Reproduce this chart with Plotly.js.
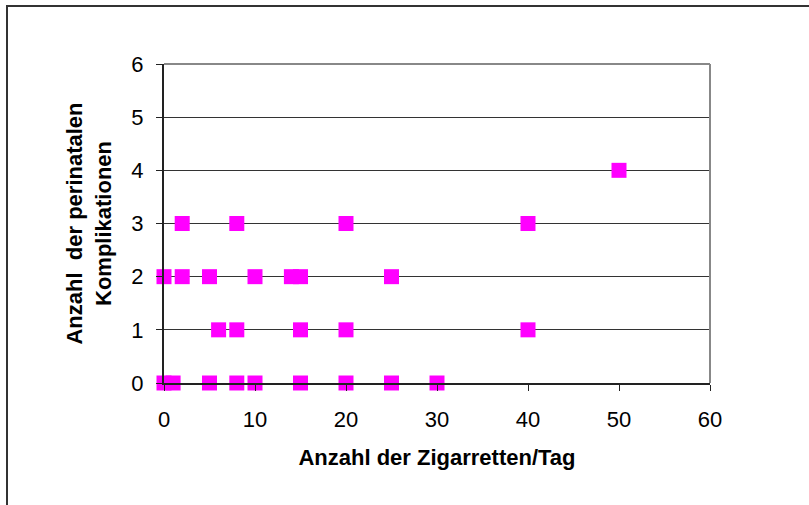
<!DOCTYPE html>
<html>
<head>
<meta charset="utf-8">
<script src="https://cdn.plot.ly/plotly-3.0.1.min.js"></script>
<style>
html,body{margin:0;padding:0;background:#fff;}
#wrap{position:relative;width:809px;height:505px;overflow:hidden;}
#chart{width:809px;height:505px;}
#frame{position:absolute;left:6px;top:5px;width:900px;height:600px;border:2px solid #333;pointer-events:none;}
</style>
</head>
<body>
<div id="wrap"><div id="chart"></div><div id="frame"></div></div>
<script>
// Cigarettes per day
const cigarettes = [2, 8, 20, 40,
                    0, 2, 5, 10, 14, 15, 25,
                    6, 8, 15, 20, 40,
                    0, 1, 5, 8, 10, 15, 20, 25, 30,
                    50];
// Number of perinatal complications
const complications = [3, 3, 3, 3,
                       2, 2, 2, 2, 2, 2, 2,
                       1, 1, 1, 1, 1,
                       0, 0, 0, 0, 0, 0, 0, 0, 0,
                       4];
const xTicks = [0, 10, 20, 30, 40, 50, 60];
const yTicks = [0, 1, 2, 3, 4, 5, 6];

const font = 'Liberation Sans, Arial, sans-serif';

Plotly.newPlot('chart', [{
  type: 'scatter',
  mode: 'markers',
  x: cigarettes,
  y: complications,
  marker: {symbol: 'square', size: 15, color: '#FF00FF'},
  showlegend: false,
  cliponaxis: false
}], {
  width: 809, height: 505,
  margin: {l: 164, r: 99, t: 64, b: 122},
  paper_bgcolor: '#fff', plot_bgcolor: '#fff',
  font: {family: font, color: '#000', size: 22},
  xaxis: {
    range: [0, 60], tickvals: xTicks, ticktext: xTicks.map(String),
    showgrid: false, zeroline: false,
    showline: true, linecolor: '#222', linewidth: 2,
    ticks: 'outside', ticklen: 6, tickcolor: '#222', tickwidth: 1,
    ticklabelstandoff: 10,
    tickfont: {family: font, size: 22},
    title: {text: '<b>Anzahl der Zigarretten/Tag</b>', font: {family: font, size: 22}, standoff: 18},
    mirror: false
  },
  yaxis: {
    range: [0, 6], tickvals: yTicks, ticktext: yTicks.map(String),
    showgrid: true, gridcolor: '#333', gridwidth: 1,
    zeroline: false,
    showline: true, linecolor: '#222', linewidth: 2,
    ticks: 'outside', ticklen: 6, tickcolor: '#222', tickwidth: 1,
    ticklabelstandoff: 8,
    tickfont: {family: font, size: 22},
    title: {text: '<b>Anzahl  der perinatalen<br>Komplikationen</b>', font: {family: font, size: 22}, standoff: 14}
  },
  shapes: [
    {type: 'line', xref: 'paper', yref: 'paper', x0: 0, x1: 1, y0: 1, y1: 1, line: {color: '#888', width: 2}},
    {type: 'line', xref: 'paper', yref: 'paper', x0: 1, x1: 1, y0: 0, y1: 1, line: {color: '#888', width: 2}}
  ]
}, {staticPlot: true});
</script>
</body>
</html>
